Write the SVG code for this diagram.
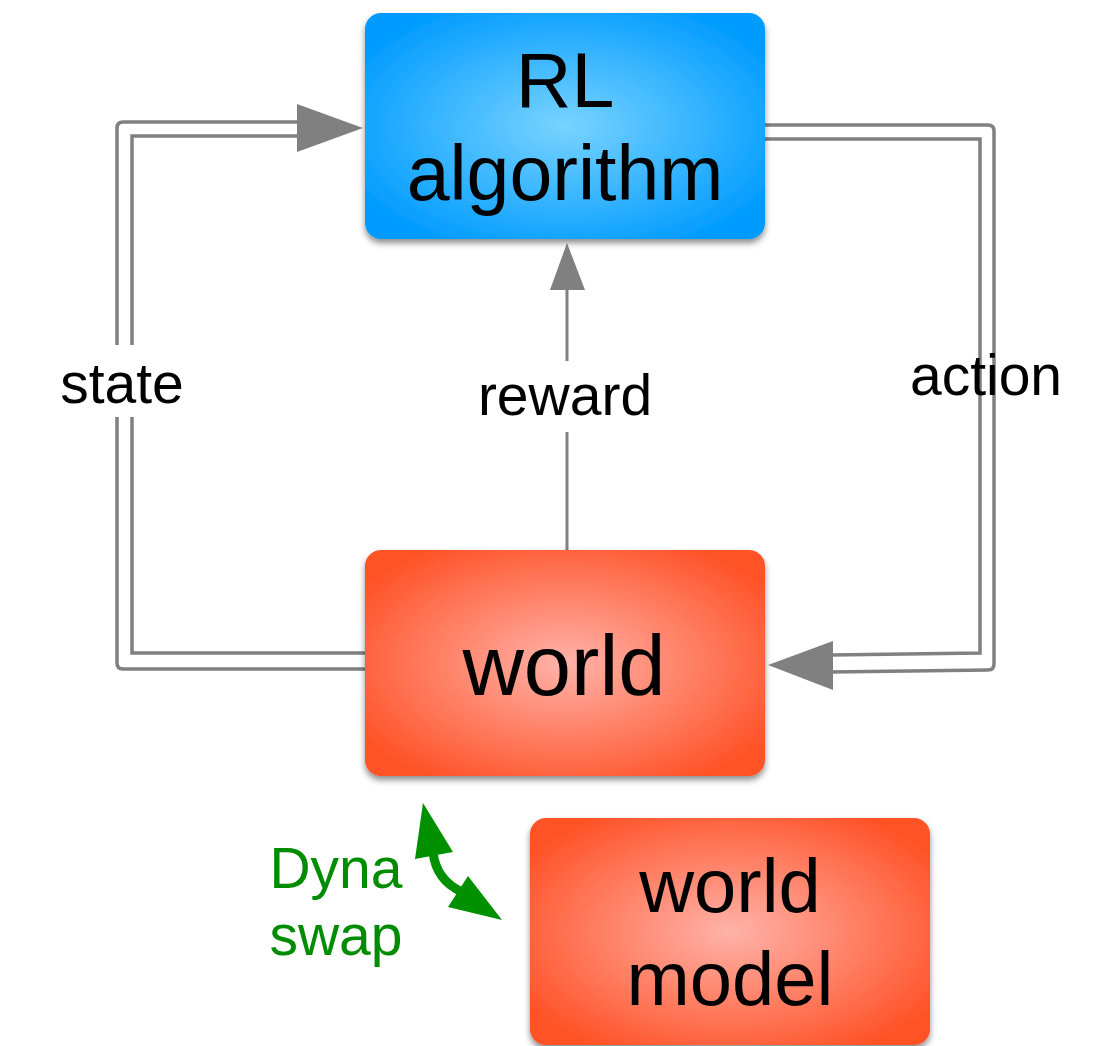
<svg xmlns="http://www.w3.org/2000/svg" width="1098" height="1046" viewBox="0 0 1098 1046">
<style>
.lbl{font-family:"Liberation Sans",Arial,sans-serif;font-size:57px;fill:#000;text-anchor:middle}
.big{font-family:"Liberation Sans",Arial,sans-serif;fill:#000;text-anchor:middle}
.conn{fill:none;stroke:#808080;stroke-width:3.5}
.head{fill:#808080}
.green{font-family:"Liberation Sans",Arial,sans-serif;font-size:57px;fill:#008c00;text-anchor:middle}
</style>
<defs>
<radialGradient id="gBlue" cx="0.5" cy="0.5" r="0.6">
<stop offset="0" stop-color="#78d3ff"/>
<stop offset="1" stop-color="#009bff"/>
</radialGradient>
<radialGradient id="gRed" cx="0.5" cy="0.5" r="0.6">
<stop offset="0" stop-color="#ffb2a9"/>
<stop offset="1" stop-color="#ff5328"/>
</radialGradient>
<filter id="sh" x="-10%" y="-10%" width="120%" height="130%">
<feDropShadow dx="0" dy="4" stdDeviation="3" flood-color="#000" flood-opacity="0.45"/>
</filter>
</defs>
<rect width="1098" height="1046" fill="#fff"/>
<g id="connectors">
<!-- state -->
<path class="conn" d="M365,669 H123 Q117,669 117,663 V417 M117,345 V128 Q117,122 123,122 H300"/>
<path class="conn" d="M365,653 H132 V417 M132,345 V136 H300"/>
<polygon class="head" points="297,104 363,128 297,152"/>
<!-- action -->
<path class="conn" d="M765,125 H988 Q994,125 994,131 V409 M994,340 V664 Q994,670 988,670 L830,672"/>
<path class="conn" d="M765,139 H980 V409 M980,340 V653 L830,655"/>
<polygon class="head" points="833,641 768,665 833,690"/>
<!-- reward -->
<path class="conn" d="M567,550 V432 M567,361 V288" style="stroke-width:3"/>
<polygon class="head" points="567,243 550,290 585,290"/>
<!-- dyna swap -->
<path d="M433,852 Q436,880 462,892" fill="none" stroke="#009000" stroke-width="9"/>
<polygon points="423,803 415,859 453,852" fill="#009000"/>
<polygon points="502,920 468,876 448,907" fill="#009000"/>
</g>
<g id="labels">
<text class="lbl" x="122" y="403">state</text>
<text class="lbl" x="565" y="415">reward</text>
<text class="lbl" x="986" y="395">action</text>
<text class="green" x="336" y="888">Dyna</text>
<text class="green" x="336" y="955">swap</text>
</g>
<g id="rl">
<rect x="365" y="13" width="400" height="226" rx="16" fill="url(#gBlue)" filter="url(#sh)"/>
<text class="big" x="565" y="107" font-size="77">RL</text>
<text class="big" x="565" y="200" font-size="77">algorithm</text>
</g>
<g id="world">
<rect x="365" y="550" width="400" height="226" rx="16" fill="url(#gRed)" filter="url(#sh)"/>
<text class="big" x="564" y="695" font-size="85">world</text>
</g>
<g id="worldmodel">
<rect x="530" y="818" width="400" height="227" rx="16" fill="url(#gRed)" filter="url(#sh)"/>
<text class="big" x="730" y="912" font-size="76">world</text>
<text class="big" x="730" y="1005" font-size="76">model</text>
</g>
</svg>
